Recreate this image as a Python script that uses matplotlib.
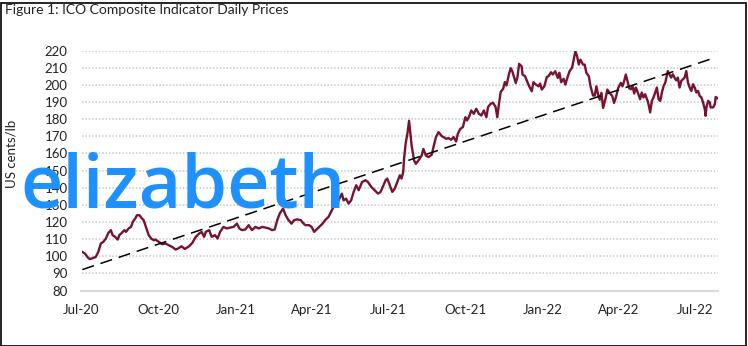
import numpy as np
import pandas as pd
import matplotlib
matplotlib.use('Agg')
import matplotlib.pyplot as plt
import matplotlib.dates as mdates
from matplotlib.patches import Rectangle

# days since 1 Jul 2020 and ICO composite price (US cents/lb)
days = [1, 4, 8, 10, 14, 17, 20, 23, 26, 29,
        32, 35, 37, 40, 43, 45, 48, 51, 53, 56,
        59, 61, 64, 66, 69, 72, 74, 76, 78, 80,
        83, 86, 88, 92, 96, 100, 104, 108, 112, 115,
        119, 123, 128, 132, 136, 140, 143, 146, 148, 152,
        155, 159, 162, 165, 169, 173, 177, 181, 185, 188,
        191, 195, 199, 203, 207, 211, 215, 219, 223, 227,
        230, 233, 236, 240, 243, 246, 250, 253, 257, 261,
        265, 267, 271, 274, 277, 279, 283, 287, 290, 294,
        298, 300, 304, 306, 310, 312, 315, 318, 321, 324,
        327, 330, 334, 338, 341, 345, 349, 353, 356, 359,
        362, 364, 367, 370, 373, 376, 379, 381, 383, 384,
        386, 388, 390, 393, 396, 398, 401, 405, 407, 410,
        413, 417, 419, 422, 425, 429, 431, 434, 437, 440,
        443, 446, 448, 451, 454, 457, 459, 462, 464, 467,
        470, 473, 476, 479, 482, 484, 487, 490, 493, 495,
        497, 499, 502, 504, 506, 509, 511, 513, 517, 519,
        521, 524, 525, 528, 531, 533, 536, 538, 541, 544,
        546, 548, 551, 554, 556, 559, 561, 564, 567, 569,
        571, 574, 576, 579, 581, 584, 586, 588, 590, 592,
        594, 597, 599, 601, 604, 606, 609, 611, 613, 615,
        617, 619, 621, 624, 626, 629, 632, 634, 636, 639,
        642, 644, 646, 648, 650, 652, 654, 656, 658, 660,
        663, 665, 667, 669, 671, 674, 675, 677, 679, 681,
        683, 685, 687, 689, 691, 693, 695, 698, 700, 702,
        704, 706, 708, 710, 712, 714, 716, 718, 720, 722,
        724, 726, 728, 730, 732, 734, 736, 738, 740, 742,
        743, 744, 746, 748, 749, 752, 754, 755, 757]
prices = [102.5, 101.6, 99.0, 98.3, 99.0, 99.6, 102.5, 107.4, 108.4, 110.3,
          113.6, 115.2, 112.3, 111.3, 109.7, 112.3, 113.6, 115.2, 114.2, 116.2,
          117.1, 120.0, 122.0, 123.9, 123.9, 122.0, 121.0, 118.1, 115.2, 112.3,
          110.3, 109.3, 109.7, 108.4, 107.0, 107.4, 106.4, 105.4, 103.9, 104.5,
          105.8, 104.2, 105.8, 107.8, 111.3, 113.2, 114.2, 111.3, 114.2, 115.2,
          111.3, 112.3, 110.3, 114.2, 117.1, 116.2, 116.7, 117.1, 119.0, 116.2,
          115.2, 115.6, 118.1, 115.2, 117.1, 116.2, 117.1, 116.7, 116.2, 115.2,
          115.6, 121.0, 124.9, 127.8, 123.9, 121.4, 119.0, 121.0, 121.5, 121.0,
          118.7, 118.1, 118.1, 117.1, 114.2, 115.2, 117.1, 119.0, 121.0, 122.9,
          126.8, 128.7, 129.7, 132.6, 136.5, 132.6, 133.6, 130.7, 132.6, 137.5,
          141.4, 138.5, 143.3, 144.3, 143.3, 140.4, 138.5, 136.5, 137.5, 140.8,
          144.3, 145.3, 141.4, 137.5, 139.5, 143.3, 147.2, 145.3, 149.1, 156.9,
          166.0, 171.5, 179.0, 164.6, 155.8, 153.9, 155.8, 158.7, 162.6, 158.7,
          157.8, 159.2, 163.6, 169.5, 172.4, 170.0, 169.5, 168.5, 168.9, 167.9,
          169.5, 166.9, 171.4, 174.3, 175.3, 181.1, 179.2, 182.1, 185.0, 183.1,
          186.0, 183.1, 182.1, 185.0, 181.1, 187.0, 188.9, 189.5, 187.0, 181.1,
          188.9, 195.7, 197.7, 201.6, 199.6, 206.4, 209.7, 207.7, 201.0, 204.5,
          212.2, 210.8, 206.0, 205.0, 201.5, 199.1, 196.2, 201.5, 200.1, 199.1,
          200.7, 197.2, 199.1, 204.6, 205.0, 207.3, 206.0, 207.9, 204.0, 207.0,
          201.5, 203.5, 200.1, 205.0, 207.9, 209.9, 214.7, 219.6, 216.7, 211.8,
          214.7, 211.8, 211.8, 207.0, 205.0, 199.1, 193.7, 193.7, 199.1, 194.3,
          191.3, 195.3, 186.5, 192.3, 197.2, 195.3, 193.3, 189.4, 192.3, 198.2,
          201.1, 199.1, 202.1, 206.0, 202.2, 198.0, 197.4, 199.3, 194.9, 198.4,
          194.5, 191.6, 195.5, 192.6, 194.5, 190.6, 188.7, 183.9, 190.6, 192.6,
          195.5, 198.4, 191.6, 190.6, 195.5, 199.3, 201.3, 208.0, 206.1, 204.2,
          206.1, 204.2, 202.6, 204.2, 198.4, 202.2, 203.2, 204.2, 208.0, 201.3,
          198.4, 196.4, 200.3, 198.4, 195.5, 196.4, 193.5, 192.6, 189.7, 185.8,
          181.9, 186.8, 190.6, 189.7, 186.8, 186.8, 188.7, 192.9, 192.2]

# linear trend line end points
trend_days = [1, 752]
trend_vals = [92.2, 215.5]

yticks = list(range(80, 230, 10))

start = pd.Timestamp('2020-07-01')
dates = start + pd.to_timedelta(days, unit='D')
trend_dates = start + pd.to_timedelta(trend_days, unit='D')

plt.rcParams['font.family'] = ['Lato', 'DejaVu Sans']
txt = '#222222'

fig = plt.figure(figsize=(7.48, 3.46), dpi=100)
ax = fig.add_axes([81.5 / 748, 1 - 290.5 / 346, (718.2 - 81.5) / 748, 240 / 346])

ax.plot(dates, prices, color='#78132F', lw=1.7, zorder=3)
ax.plot(trend_dates, trend_vals, color='black', lw=1.1, ls=(0, (8, 4.5)), zorder=4)

ax.set_xlim(start, start + pd.Timedelta(days=758))
ax.set_ylim(80, 220)
ax.set_yticks(yticks)
ax.xaxis.set_major_locator(mdates.MonthLocator(bymonth=[1, 4, 7, 10]))
ax.xaxis.set_major_formatter(mdates.DateFormatter('%b-%y'))

ax.yaxis.grid(True, color='#C8C8C8', lw=1.1, ls=(0, (1, 1.2)))
ax.set_axisbelow(True)
for s in ['top', 'right', 'left']:
    ax.spines[s].set_visible(False)
ax.spines['bottom'].set_color('#D9D9D9')
ax.spines['bottom'].set_linewidth(1.5)
ax.tick_params(length=0, labelsize=9.5, colors=txt)
ax.tick_params(axis='y', pad=10)
ax.tick_params(axis='x', pad=10)

fig.text(12 / 748, 1 - 154 / 346, 'US cents/lb', rotation=90, ha='center', va='center',
         fontsize=9.5, color=txt)
fig.text(5 / 748, 1 - 4 / 346, 'Figure 1: ICO Composite Indicator Daily Prices',
         ha='left', va='top', fontsize=10, color=txt)

fig.text(20 / 748, 1 - 208 / 346, 'elizabeth', ha='left', va='baseline',
         fontsize=53, fontweight='semibold', color='#1E90FF', family='Open Sans',
         zorder=10)

fig.patches.append(Rectangle((0.5 / 748, 0.5 / 346), 745 / 748, 343 / 346,
                             transform=fig.transFigure, fill=False,
                             edgecolor='black', lw=1.2))

plt.savefig('out.png', dpi=100)
